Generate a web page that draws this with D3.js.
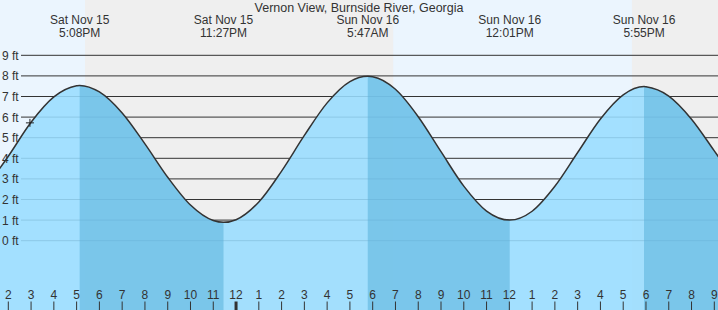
<!DOCTYPE html>
<html>
<head>
<meta charset="utf-8">
<script src="https://cdn.jsdelivr.net/npm/d3@7"></script>
<style>
  body { margin: 0; background: #fff; }
  svg { display: block; font-family: "Liberation Sans", Arial, sans-serif; }
</style>
</head>
<body>
<div id="chart"></div>
<script>
const title = "Vernon View, Burnside River, Georgia"

// hourly tide heights (ft), plus the turning points
const tideTimes = [
  "2025-11-15T13:00", "2025-11-15T14:00", "2025-11-15T15:00", "2025-11-15T16:00",
  "2025-11-15T17:00", "2025-11-15T17:08", "2025-11-15T18:00", "2025-11-15T19:00",
  "2025-11-15T20:00", "2025-11-15T21:00", "2025-11-15T22:00", "2025-11-15T23:00",
  "2025-11-15T23:27", "2025-11-16T00:00", "2025-11-16T01:00", "2025-11-16T02:00",
  "2025-11-16T03:00", "2025-11-16T04:00", "2025-11-16T05:00", "2025-11-16T05:47",
  "2025-11-16T06:00", "2025-11-16T07:00", "2025-11-16T08:00", "2025-11-16T09:00",
  "2025-11-16T10:00", "2025-11-16T11:00", "2025-11-16T12:01", "2025-11-16T13:00",
  "2025-11-16T14:00", "2025-11-16T15:00", "2025-11-16T16:00", "2025-11-16T17:00",
  "2025-11-16T17:55", "2025-11-16T18:00", "2025-11-16T19:00", "2025-11-16T20:00",
  "2025-11-16T21:00", "2025-11-16T22:00"
]
const tideHeights = [
  2.55, 4.10, 5.75, 6.98,
  7.52, 7.54, 7.22, 6.20,
  4.70, 3.08, 1.73, 0.98,
  0.89, 1.02, 1.88, 3.38,
  5.11, 6.69, 7.72, 7.98,
  7.96, 7.35, 6.02, 4.32,
  2.65, 1.44, 1.00, 1.43,
  2.64, 4.28, 5.91, 7.08,
  7.48, 7.47, 7.02, 5.90,
  4.36, 2.80
]

// highs and lows shown in the header
const extremeTimes = ["2025-11-15T17:08", "2025-11-15T23:27", "2025-11-16T05:47", "2025-11-16T12:01", "2025-11-16T17:55"]
const extremeDays = ["Sat Nov 15", "Sat Nov 15", "Sun Nov 16", "Sun Nov 16", "Sun Nov 16"]
const extremeClock = ["5:08PM", "11:27PM", "5:47AM", "12:01PM", "5:55PM"]
const extremeType = ["high", "low", "high", "low", "high"]

// daylight spans (sunrise / sunset)
const dayStarts = ["2025-11-15T06:00", "2025-11-16T06:54"]
const dayEnds = ["2025-11-15T17:22", "2025-11-16T17:23"]

const feetTicks = [0, 1, 2, 3, 4, 5, 6, 7, 8, 9]

const nowTime = "2025-11-15T14:57"
const nowHeight = 5.72

const width = 718, height = 310

const parse = d3.isoParse
const tide = tideTimes.map((t, i) => ({ t: parse(t), h: tideHeights[i] }))

const x = d3.scaleTime()
  .domain([parse("2025-11-15T14:00"), parse("2025-11-16T21:00")])
  .range([8.3, 714.3])
const y = d3.scaleLinear().domain([0, 9]).range([240.7, 55.3])

const svg = d3.select("#chart").append("svg")
  .attr("width", width)
  .attr("height", height)

// night background, then daylight bands
svg.append("rect")
  .attr("width", width).attr("height", height)
  .attr("fill", "#efefef")

svg.selectAll("rect.day")
  .data(dayStarts.map((d, i) => [parse(d), parse(dayEnds[i])]))
  .enter().append("rect")
    .attr("class", "day")
    .attr("x", d => x(d[0]))
    .attr("width", d => x(d[1]) - x(d[0]))
    .attr("y", 0)
    .attr("height", height)
    .attr("fill", "#ebf5fe")

// grid lines
svg.selectAll("line.grid")
  .data(feetTicks)
  .enter().append("line")
    .attr("class", "grid")
    .attr("x1", 21).attr("x2", width)
    .attr("y1", d => y(d)).attr("y2", d => y(d))
    .attr("stroke", "#333")
    .attr("stroke-width", 1)

// water
const area = d3.area()
  .x(d => x(d.t))
  .y0(height)
  .y1(d => y(d.h))
  .curve(d3.curveMonotoneX)

svg.append("path")
  .attr("d", area(tide))
  .attr("fill", "#99ddff")
  .attr("fill-opacity", 0.88)

// falling tide (high -> next low) is darker
const falling = []
extremeTimes.forEach((t, i) => {
  if (extremeType[i] === "high") {
    const end = extremeTimes[i + 1] ? parse(extremeTimes[i + 1]) : x.invert(width + 5)
    falling.push([parse(t), end])
  }
})

const defs = svg.append("defs")
falling.forEach((f, i) => {
  defs.append("clipPath").attr("id", `fall${i}`)
    .append("rect")
      .attr("x", x(f[0]))
      .attr("width", x(f[1]) - x(f[0]))
      .attr("y", 0)
      .attr("height", height)
  svg.append("path")
    .attr("d", area(tide))
    .attr("clip-path", `url(#fall${i})`)
    .attr("fill", "#5ab0db")
    .attr("fill-opacity", 0.55)
})

// foot labels sit on top of the water
svg.selectAll("text.ft")
  .data(feetTicks)
  .enter().append("text")
    .attr("class", "ft")
    .attr("x", 2)
    .attr("y", d => y(d) + 4.5)
    .attr("font-size", 12)
    .attr("fill", "#333")
    .text(d => `${d} ft`)

// tide line
svg.append("path")
  .attr("d", d3.line().x(d => x(d.t)).y(d => y(d.h)).curve(d3.curveMonotoneX)(tide))
  .attr("fill", "none")
  .attr("stroke", "#333")
  .attr("stroke-width", 1.5)

// current time marker
const nx = x(parse(nowTime)), ny = y(nowHeight)
svg.append("path")
  .attr("d", `M${nx - 4},${ny}H${nx + 4}M${nx},${ny - 4}V${ny + 4}`)
  .attr("stroke", "#222")
  .attr("stroke-width", 1)

// header
svg.append("text")
  .attr("x", width / 2)
  .attr("y", 11.5)
  .attr("text-anchor", "middle")
  .attr("font-size", 12.5)
  .attr("fill", "#333")
  .text(title)

const head = svg.selectAll("g.ext")
  .data(extremeTimes)
  .enter().append("g")
    .attr("class", "ext")
    .attr("transform", d => `translate(${x(parse(d))},0)`)

head.append("text")
  .attr("y", 24)
  .attr("text-anchor", "middle")
  .attr("font-size", 12)
  .attr("fill", "#333")
  .text((d, i) => extremeDays[i])

head.append("text")
  .attr("y", 36.5)
  .attr("text-anchor", "middle")
  .attr("font-size", 12)
  .attr("fill", "#333")
  .text((d, i) => extremeClock[i])

// hour axis along the bottom
const hours = x.ticks(d3.timeHour.every(1))

svg.selectAll("line.hr")
  .data(hours)
  .enter().append("line")
    .attr("class", "hr")
    .attr("x1", d => x(d)).attr("x2", d => x(d))
    .attr("y1", 301.5).attr("y2", height)
    .attr("stroke", "#333")
    .attr("stroke-width", d => d.getHours() === 0 ? 3 : 1)

svg.selectAll("text.hr")
  .data(hours)
  .enter().append("text")
    .attr("class", "hr")
    .attr("x", d => x(d))
    .attr("y", 299.3)
    .attr("text-anchor", "middle")
    .attr("font-size", 12)
    .attr("fill", "#333")
    .text(d => d.getHours() % 12 || 12)
</script>
</body>
</html>
